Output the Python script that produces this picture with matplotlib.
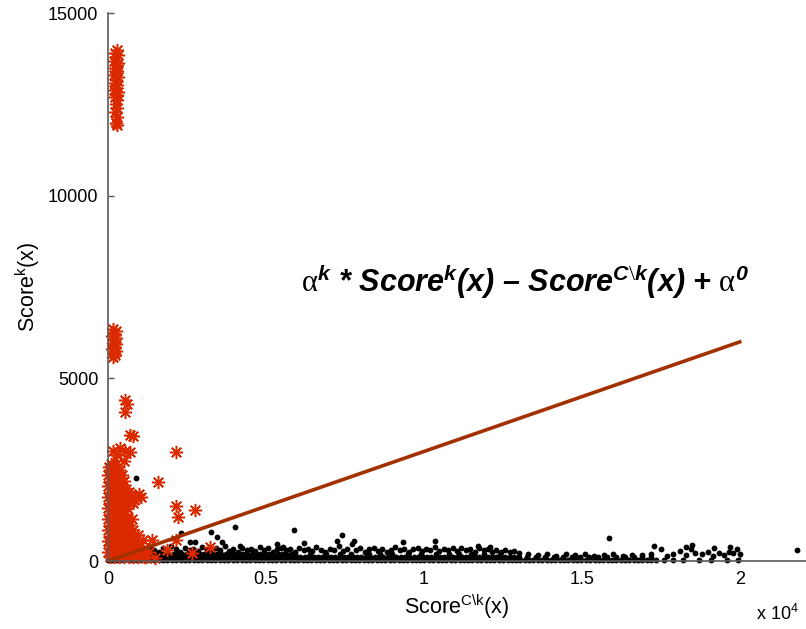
import matplotlib
matplotlib.use('Agg')
import matplotlib.pyplot as plt

plt.rcParams['font.family'] = 'Liberation Sans'
plt.rcParams['mathtext.fontset'] = 'custom'
plt.rcParams['mathtext.rm'] = 'Liberation Serif'
plt.rcParams['mathtext.sf'] = 'Liberation Sans'
plt.rcParams['mathtext.it'] = 'Liberation Sans:bold:italic'
plt.rcParams['mathtext.bf'] = 'Liberation Sans:bold:italic'

# --- datos ---
# puntos negros: franja densa junto al eje (filas) + dispersos + atipicos
band_low_y = 40
band_low_x = [0, 120, 250, 390, 520, 650, 800, 930, 1060, 1200, 1340, 1470, 1610, 1750,
              1880, 2020, 2160, 2300, 2430, 2570, 2710, 2850, 2990, 3120, 3260, 3400, 3540,
              3680, 3810, 3950, 4090, 4230, 4370, 4500, 4640, 4780, 4920, 5060, 5190, 5330,
              5470, 5610, 5750, 5880, 6020, 6160, 6300, 6440, 6570, 6710, 6850, 6990, 7130,
              7260, 7400, 7540, 7680, 7820, 7950, 8090, 8230, 8370, 8510, 8640, 8780, 8920,
              9060, 9200, 9330, 9470, 9610, 9750, 9890, 10020, 10160, 10300, 10440, 10580,
              10710, 10850, 10990, 11130, 11270, 11400, 11540, 11680, 11820, 11960, 12090,
              12230, 12370, 12510, 12650, 12780, 12920, 13060, 13200, 13340, 13470, 13610,
              13750, 13890, 14030, 14160, 14300, 14440, 14580, 14720, 14850, 14990, 15130,
              15270, 15410, 15540, 15680, 15820, 15960, 16100, 16230, 16370, 16510, 16650,
              16790, 16920, 17060, 17200, 17340, 17600, 17900, 18200, 18700, 19100, 19600, 19950]
band_mid_y = 115
band_mid_x = [60, 190, 320, 450, 590, 720, 860, 1000, 1130, 1270, 1400, 1540, 1680, 1820,
              1950, 2090, 2230, 2370, 2500, 2640, 2780, 2920, 3060, 3190, 3330, 3470, 3610,
              3750, 3880, 4020, 4160, 4300, 4440, 4570, 4710, 4850, 4990, 5130, 5260, 5400,
              5540, 5680, 5820, 5950, 6090, 6230, 6370, 6510, 6640, 6780, 6920, 7060, 7200,
              7330, 7470, 7610, 7750, 7890, 8020, 8160, 8300, 8440, 8580, 8710, 8850, 8990,
              9130, 9270, 9400, 9540, 9680, 9820, 9960, 10090, 10230, 10370, 10510, 10650,
              10780, 10920, 11060, 11200, 11340, 11470, 11610, 11750, 11890, 12030, 12160,
              12300, 12440, 12580, 12720, 12850, 13000, 13280, 13560, 13840, 14120, 14400,
              14680, 14960, 15240, 15520, 15800, 16080, 16360, 16640, 16920, 17200]
band_top_y = 190
band_top_x = [30, 170, 300, 440, 580, 710, 850, 990, 1120, 1260, 1390, 1530, 1670, 1810,
              1940, 2080, 2220, 2350, 2490, 2630, 2770, 2900, 3040, 3180, 3310, 3450, 3590,
              3730, 3860, 4000, 4140, 4270, 4410, 4550, 4690, 4820, 4960, 5100, 5230, 5370,
              5510, 5650, 5780, 5920, 6400, 6900, 7350, 7700, 8250, 8600, 9000, 9500, 9900,
              10400, 10800, 11100, 11500, 11900, 12400]
black_scatter_x = [150, 320, 480, 610, 760, 900, 1050, 1180, 1320, 1460, 1600, 1740, 1870, 2010,
                   2150, 2290, 2430, 2560, 2700, 2840, 2980, 3120, 3270, 3410, 3550, 3690, 3830,
                   3970, 4110, 4250, 4390, 4520, 4660, 4800, 4940, 5080, 5210, 5350, 5490, 5630,
                   5770, 5910, 6050, 6190, 6320, 6460, 6600, 6740, 6880, 7020, 7160, 7300, 7440,
                   7580, 7720, 7850, 7990, 8130, 8270, 8410, 8550, 8690, 8830, 8960, 9100, 9240,
                   9380, 9520, 9660, 9800, 9940, 10080, 10210, 10350, 10490, 10630, 10770, 10910,
                   11050, 11190, 11330, 11470, 11610, 11750, 11890, 12030, 12160, 12300, 12440,
                   12580, 12720, 12860, 13000, 13300, 13600, 13900, 14200, 14500, 14800, 15100,
                   15400, 15700, 16000, 16300, 16600, 16900, 17200, 17500, 17700, 17900, 18100,
                   18300, 18450, 18600, 18800, 19000, 19150, 19350, 19500, 19650, 19800, 19900, 20000]
black_scatter_y = [260, 320, 240, 350, 280, 240, 330, 270, 380, 300, 260, 360, 290, 400,
                   320, 250, 370, 300, 340, 270, 380, 290, 260, 350, 310, 410, 280,
                   330, 260, 370, 310, 340, 270, 390, 300, 350, 260, 320, 370, 290,
                   330, 250, 360, 300, 340, 270, 380, 300, 250, 340, 310, 410, 280,
                   330, 460, 290, 360, 250, 320, 370, 280, 330, 260, 310, 380, 290,
                   340, 260, 320, 360, 280, 330, 300, 390, 270, 340, 310, 370,
                   280, 350, 300, 330, 250, 350, 290, 320, 240, 300, 260,
                   310, 240, 270, 220, 200, 160, 190, 150, 180, 160, 190,
                   150, 170, 180, 150, 170, 160, 200, 330, 150, 200, 280,
                   160, 330, 220, 180, 260, 140, 230, 170, 260, 210, 320, 180]
black_out_x = [253, 886, 2310, 3260, 4020, 2595, 2750, 3450, 3610, 4180, 5350, 5540, 5890,
               7400, 6200, 7250, 7800, 9330, 10350, 11700, 12100, 15850, 17300, 18300, 18500,
               19200, 19700, 21800]
black_out_y = [739, 2271, 766, 794, 930, 520, 520, 657, 520, 400, 465, 383, 848,
               711, 500, 540, 560, 520, 547, 420, 380, 620, 420, 390, 450,
               360, 380, 300]

# asteriscos rojos: columnas altas, atipicos y masa inferior (por filas)
red_x = [270, 220, 310, 250, 190, 330, 280, 220, 300, 250, 190, 320, 260, 210, 300, 250, 190,
         320, 270, 220, 290, 250, 300, 230, 280, 260, 290,
         160, 240, 200, 130, 260, 190, 150, 240, 200, 130, 260, 180, 220, 150,
         380, 700, 550, 790, 700, 540, 540, 600, 2150, 1580, 2150, 2215, 2753, 3228, 500, 300,
         150, 2150, 1110, 1390, 1870, 2660, 950, 1200, 1500]
red_y = [14000, 13900, 13850, 13760, 13700, 13650, 13580, 13500, 13430, 13350, 13300, 13240,
         13170, 13100, 13030, 12960, 12900, 12840, 12770, 12700, 12620, 12520, 12400, 12300,
         12150, 12000, 11950,
         6350, 6300, 6220, 6150, 6120, 6050, 5980, 5940, 5870, 5800, 5760, 5700, 5640, 5600,
         3090, 2980, 3000, 3420, 3450, 4400, 4080, 4300, 2983, 2162, 1505, 1204, 1396, 383,
         2750, 2900, 3000, 575, 575, 575, 300, 220, 710, 100, 80]
red_rows = {
    2650: [100, 250],
    2575: [30, 170, 320],
    2500: [50, 200, 350],
    2425: [120, 280],
    2350: [0, 150, 300, 450],
    2275: [80, 230, 380],
    2200: [50, 200, 350, 500],
    2125: [120, 270, 420],
    2050: [0, 150, 300, 450],
    1975: [80, 230, 380, 560],
    1900: [50, 200, 350, 500, 650],
    1825: [120, 270, 420, 720, 980],
    1750: [0, 150, 300, 450, 600, 750, 900, 1050],
    1675: [80, 230, 380, 530, 680, 830],
    1600: [50, 200, 350, 500, 650, 800],
    1525: [120, 270, 420, 570],
    1450: [0, 150, 300, 450, 600],
    1375: [80, 230, 380, 530],
    1300: [50, 200, 350, 500],
    1225: [120, 270, 420],
    1150: [0, 150, 300, 450, 600, 750],
    1075: [80, 230, 380, 530],
    1000: [50, 200, 350, 500, 650],
    925: [120, 270, 420, 570],
    850: [0, 150, 300, 450, 600, 790],
    775: [80, 230, 380, 530],
    700: [50, 200, 350, 500, 650, 800],
    625: [120, 270, 420, 570],
    550: [0, 150, 300, 450, 600, 750, 900],
    475: [80, 230, 380, 530],
    400: [50, 200, 350, 500, 650, 800, 1000],
    325: [120, 270, 420, 570, 720],
    250: [0, 150, 300, 450, 600, 750, 900, 1100, 1300],
    175: [80, 230, 380, 530, 680],
    100: [50, 200, 350, 500, 650, 800, 950, 1150],
}

# recta alpha^k * Score^k - Score^{C\k} + alpha^0
line_x = [0, 20000]
line_y = [0, 6000]

x_ticks = [0, 5000, 10000, 15000, 20000]
x_ticklabels = ['0', '0.5', '1', '1.5', '2']
y_ticks = [0, 5000, 10000, 15000]

# --- ploteo ---
fig = plt.figure(figsize=(8.06, 6.29), dpi=100)
ax = fig.add_axes([0.134, 0.108, 0.866, 0.871])

dot = dict(linestyle='none', marker='o', color='black', ms=4.2, mew=0, clip_on=False)
ax.plot(band_low_x, [band_low_y] * len(band_low_x), **dot)
ax.plot(band_mid_x, [band_mid_y] * len(band_mid_x), **dot)
ax.plot(band_top_x, [band_top_y] * len(band_top_x), **dot)
ax.plot(black_scatter_x, black_scatter_y, **dot)
ax.plot(black_out_x, black_out_y, **dot)

rows_x = [x for y in red_rows for x in red_rows[y]]
rows_y = [y for y in red_rows for x in red_rows[y]]
star = dict(linestyle='none', marker=(8, 2, 0), color='#dc2a00', ms=9.5, mew=1.1, clip_on=False)
ax.plot(rows_x, rows_y, **star)
ax.plot(red_x, red_y, **star)

ax.plot(line_x, line_y, color='#a33100', lw=2.6)

ax.set_xlim(0, 22100)
ax.set_ylim(0, 15000)
ax.set_xticks(x_ticks)
ax.set_xticklabels(x_ticklabels)
ax.set_yticks(y_ticks)
ax.tick_params(direction='in', length=4, width=1, color='#555555', labelsize=13, pad=7)

for s in ['top', 'right']:
    ax.spines[s].set_visible(False)
for s in ['left', 'bottom']:
    ax.spines[s].set_color('#5a5a5a')
    ax.spines[s].set_linewidth(1.2)

ax.set_xlabel(r'Score$^{\mathsf{C\backslash k}}$(x)', fontsize=15.5, labelpad=3)
ax.set_ylabel(r'Score$^{\mathsf{k}}$(x)', fontsize=15.5, labelpad=4)

fig.text(0.938, 0.014, r'x 10$^{\mathsf{4}}$', fontsize=13)

fig.text(0.374, 0.552,
         r'$\mathrm{\alpha}^{k}$ * Score$^{k}$(x) – Score$^{C\backslash k}$(x) + $\mathrm{\alpha}^{\mathbf{0}}$',
         fontsize=22, fontweight='bold', style='italic', va='center', ha='left')

fig.savefig('out.png', dpi=100)
